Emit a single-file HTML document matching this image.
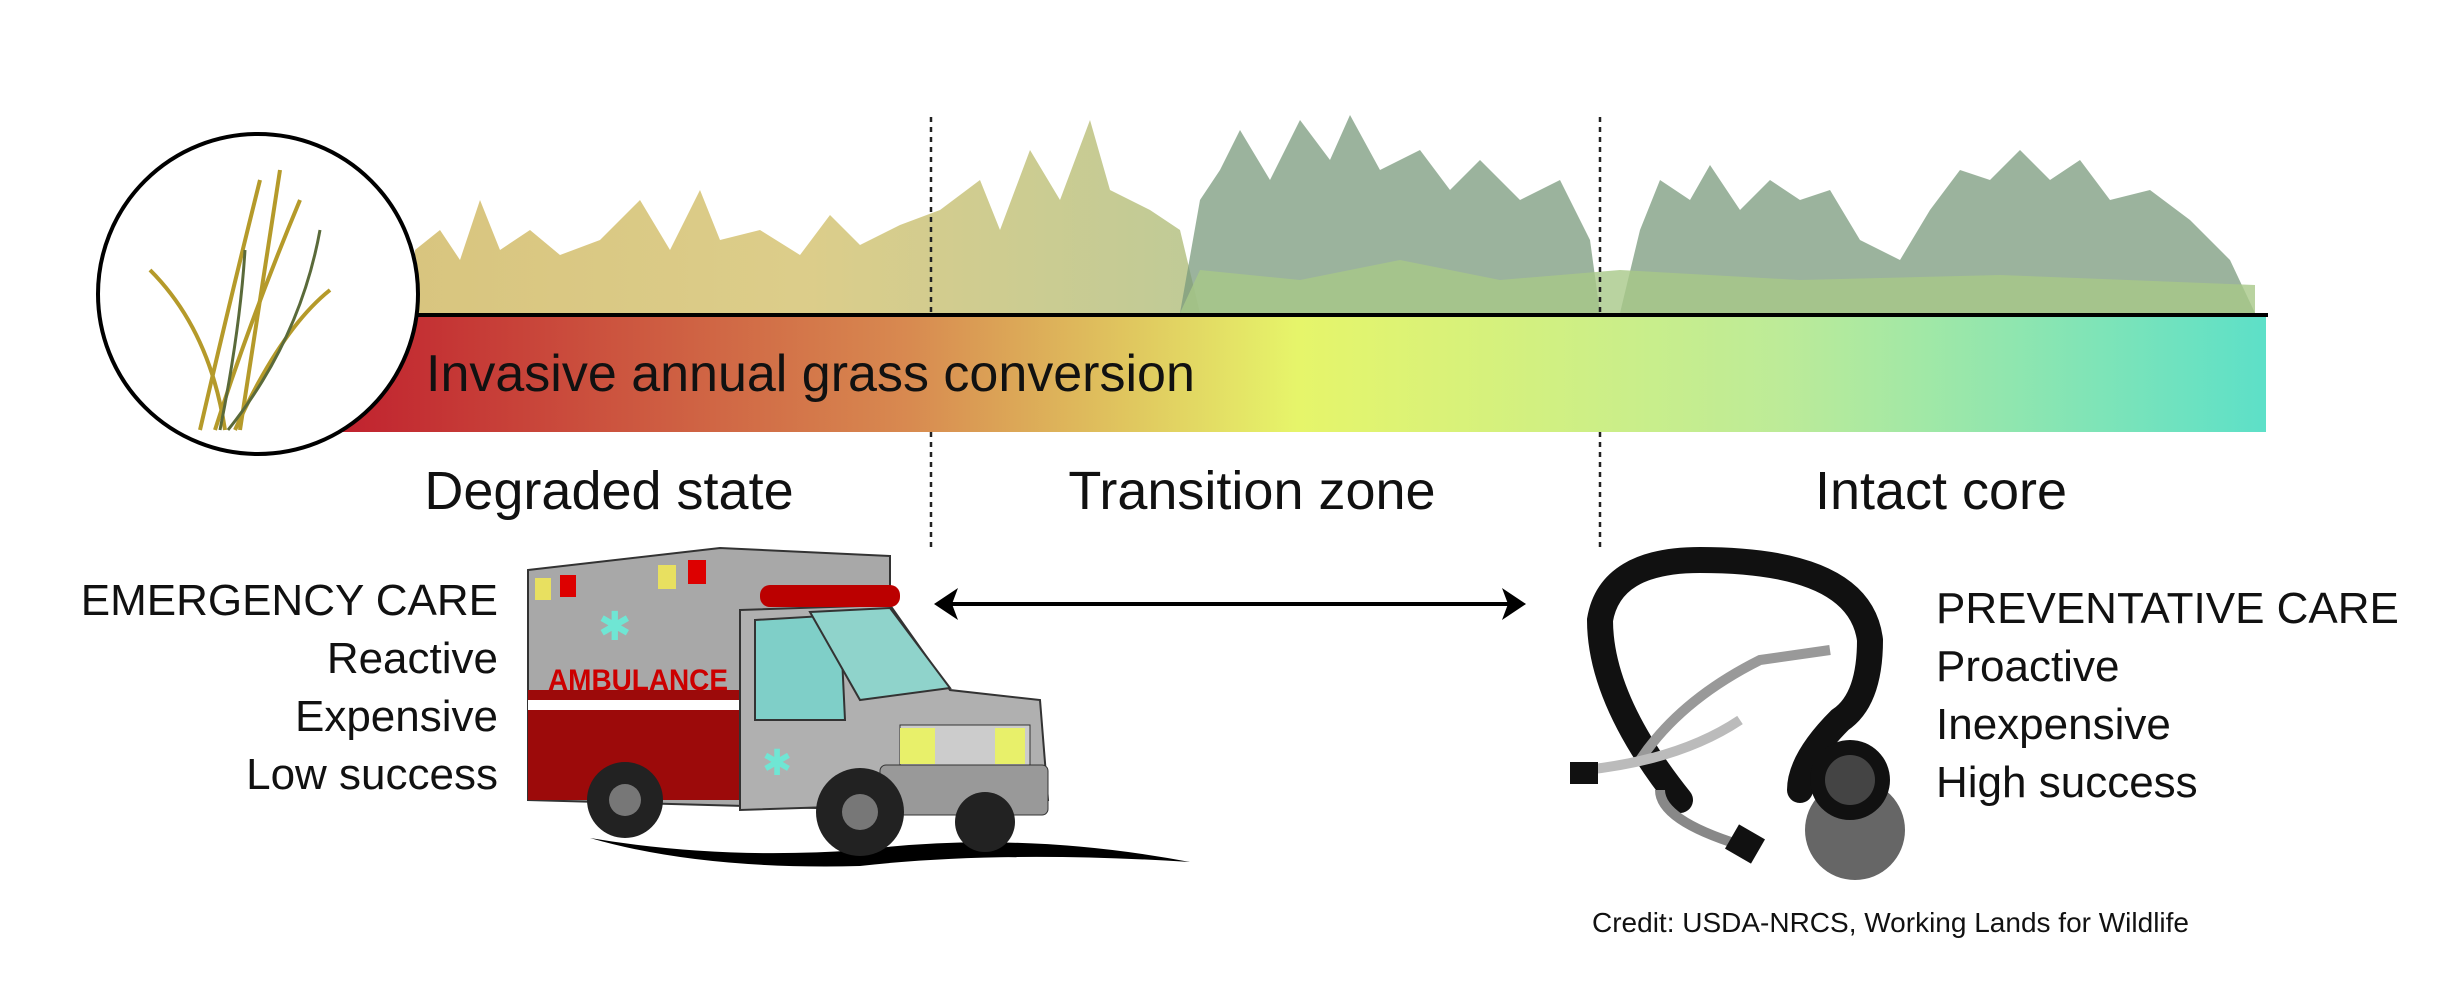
<!DOCTYPE html>
<html><head><meta charset="utf-8"><style>
html,body{margin:0;padding:0;background:#fff;}
body{width:2454px;height:996px;position:relative;overflow:hidden;font-family:"Liberation Sans Narrow","Liberation Sans",sans-serif;color:#111;}
.t{position:absolute;white-space:nowrap;}
</style></head><body>
<svg width="2454" height="996" style="position:absolute;left:0;top:0">
<defs>
<linearGradient id="g" x1="0" x2="1">
<stop offset="0" stop-color="#c0202e"/>
<stop offset="0.3" stop-color="#d88a50"/>
<stop offset="0.5" stop-color="#e6f56a"/>
<stop offset="0.75" stop-color="#bdeb98"/>
<stop offset="1" stop-color="#5de0c8"/>
</linearGradient>
<linearGradient id="gy" x1="0" x2="1">
<stop offset="0" stop-color="#c8ac48"/>
<stop offset="0.5" stop-color="#cdb858"/>
<stop offset="1" stop-color="#a4b46a"/>
</linearGradient>
</defs>
<rect x="329" y="313" width="1937" height="119" fill="url(#g)"/>
<path d="M415 313 L415 250 L440 230 L460 260 L480 200 L500 250 L530 230 L560 255 L600 240 L640 200 L670 250 L700 190 L720 240 L760 230 L800 255 L830 215 L860 245 L900 225 L940 210 L980 180 L1000 230 L1030 150 L1060 200 L1090 120 L1110 190 L1150 210 L1180 230 L1200 313 Z" fill="url(#gy)" opacity="0.7"/>
<path d="M1180 313 L1200 200 L1220 170 L1240 130 L1270 180 L1300 120 L1330 160 L1350 115 L1380 170 L1420 150 L1450 190 L1480 160 L1520 200 L1560 180 L1590 240 L1600 313 Z" fill="#7a9a7c" opacity="0.75"/>
<path d="M1620 313 L1640 230 L1660 180 L1690 200 L1710 165 L1740 210 L1770 180 L1800 200 L1830 190 L1860 240 L1900 260 L1930 210 L1960 170 L1990 180 L2020 150 L2050 180 L2080 160 L2110 200 L2150 190 L2190 220 L2230 260 L2255 313 Z" fill="#7a9a7c" opacity="0.75"/>
<path d="M1180 313 L1200 270 L1300 280 L1400 260 L1500 280 L1620 270 L1800 280 L2000 275 L2255 285 L2255 313 Z" fill="#a8c888" opacity="0.8"/>
<line x1="415" y1="315" x2="2268" y2="315" stroke="#000" stroke-width="4"/>
<circle cx="258" cy="294" r="160" fill="#fff" stroke="#000" stroke-width="4"/>
<g stroke="#b59a2a" stroke-width="4" fill="none">
<path d="M200 430 Q230 300 260 180"/><path d="M215 430 Q250 320 300 200"/><path d="M225 430 Q210 330 150 270"/><path d="M235 430 Q280 330 330 290"/><path d="M240 430 Q260 300 280 170"/>
</g>
<g stroke="#5a6a3a" stroke-width="3" fill="none"><path d="M220 430 Q240 330 245 250"/><path d="M228 430 Q300 340 320 230"/></g>
<g stroke="#222" stroke-width="2.5" stroke-dasharray="5,5">
<line x1="931" y1="117" x2="931" y2="313"/><line x1="931" y1="432" x2="931" y2="551"/>
<line x1="1600" y1="117" x2="1600" y2="313"/><line x1="1600" y1="432" x2="1600" y2="551"/>
</g>
<line x1="945" y1="604" x2="1515" y2="604" stroke="#000" stroke-width="4"/>
<path d="M934 604 L958 588 L952 604 L958 620 Z" fill="#000"/>
<path d="M1526 604 L1502 588 L1508 604 L1502 620 Z" fill="#000"/>
<path d="M590 838 Q720 860 860 850 Q1020 830 1190 862 Q1000 850 860 866 Q700 870 590 838 Z" fill="#000"/>
<path d="M528 570 L720 548 L890 556 L890 810 L528 800 Z" fill="#a8a8a8" stroke="#333" stroke-width="2"/>
<rect x="528" y="690" width="362" height="110" fill="#9c0a0a"/>
<rect x="528" y="700" width="362" height="10" fill="#fff"/>
<path d="M740 610 L890 605 L950 690 L1040 700 L1048 800 L740 810 Z" fill="#b0b0b0" stroke="#333" stroke-width="2"/>
<path d="M755 620 L840 615 L845 720 L755 720 Z" fill="#7fcfc8" stroke="#333" stroke-width="2"/>
<path d="M810 612 L890 608 L950 688 L860 700 Z" fill="#8fd3cb" stroke="#333" stroke-width="2"/>
<rect x="900" y="725" width="130" height="40" fill="#ccc" stroke="#333"/>
<rect x="900" y="728" width="35" height="36" fill="#e8f06a"/><rect x="995" y="728" width="30" height="36" fill="#e8f06a"/>
<rect x="880" y="765" width="168" height="50" rx="6" fill="#999" stroke="#333"/>
<rect x="760" y="585" width="140" height="22" rx="10" fill="#b00" />
<circle cx="625" cy="800" r="38" fill="#222"/><circle cx="625" cy="800" r="16" fill="#777"/>
<circle cx="860" cy="812" r="44" fill="#222"/><circle cx="860" cy="812" r="18" fill="#777"/>
<circle cx="985" cy="822" r="30" fill="#222"/>
<rect x="535" y="578" width="16" height="22" fill="#e8e060"/><rect x="560" y="575" width="16" height="22" fill="#d00"/>
<rect x="658" y="565" width="18" height="24" fill="#e8e060"/><rect x="688" y="560" width="18" height="24" fill="#d00"/>
<text x="598" y="640" font-size="40" fill="#6fe6d4" font-family="Liberation Sans">✱</text>
<text x="762" y="775" font-size="36" fill="#6fe6d4" font-family="Liberation Sans">✱</text>
<text x="548" y="690" font-size="30" fill="#c00" font-weight="bold" font-family="Liberation Sans" textLength="180" lengthAdjust="spacingAndGlyphs">AMBULANCE</text>
<path d="M1680 800 Q1600 700 1600 620 Q1610 560 1700 560 Q1860 560 1870 640 Q1870 700 1840 720 Q1800 760 1800 790" fill="none" stroke="#111" stroke-width="26" stroke-linecap="round"/>
<path d="M1640 760 Q1680 700 1760 660 L1830 650" fill="none" stroke="#999" stroke-width="10"/>
<path d="M1585 770 Q1680 760 1740 720" fill="none" stroke="#bbb" stroke-width="10"/>
<path d="M1660 790 Q1660 820 1740 845" fill="none" stroke="#888" stroke-width="10"/>
<rect x="1570" y="762" width="28" height="22" fill="#111"/>
<rect x="1730" y="830" width="30" height="28" fill="#111" transform="rotate(30 1745 844)"/>
<circle cx="1855" cy="830" r="50" fill="#666"/><circle cx="1850" cy="780" r="40" fill="#111"/>
<circle cx="1850" cy="780" r="25" fill="#444"/>
</svg>
<div class="t" style="left:426px;top:344px;font-size:52px;">Invasive annual grass conversion</div>
<div class="t" style="left:609px;top:460px;font-size:54px;transform:translateX(-50%);">Degraded state</div>
<div class="t" style="left:1252px;top:460px;font-size:54px;transform:translateX(-50%);">Transition zone</div>
<div class="t" style="left:1941px;top:460px;font-size:54px;transform:translateX(-50%);">Intact core</div>
<div class="t" style="right:1956px;top:572px;font-size:44px;text-align:right;line-height:58px;">EMERGENCY CARE<br>Reactive<br>Expensive<br>Low success</div>
<div class="t" style="left:1936px;top:580px;font-size:44px;line-height:58px;">PREVENTATIVE CARE<br>Proactive<br>Inexpensive<br>High success</div>
<div class="t" style="left:1592px;top:907px;font-size:28px;">Credit: USDA-NRCS, Working Lands for Wildlife</div>
</body></html>
